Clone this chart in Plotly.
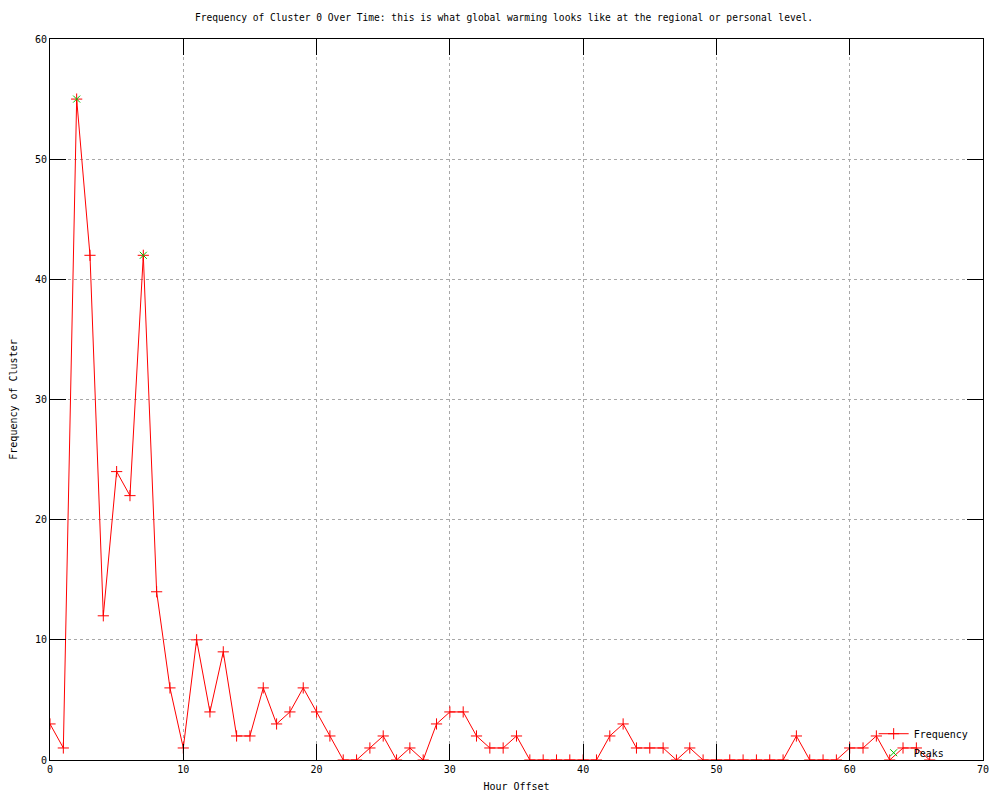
import plotly.graph_objects as go

# hour offset vs frequency of cluster 0
hours = list(range(0, 67))
frequency = [3, 1, 55, 42, 12, 24, 22, 42, 14, 6,
             1, 10, 4, 9, 2, 2, 6, 3, 4, 6,
             4, 2, 0, 0, 1, 2, 0, 1, 0, 3,
             4, 4, 2, 1, 1, 2, 0, 0, 0, 0,
             0, 0, 2, 3, 1, 1, 1, 0, 1, 0,
             0, 0, 0, 0, 0, 0, 2, 0, 0, 0,
             1, 1, 2, 0, 1, 1, 0]
peak_hours = [2, 7]
peak_values = [55, 42]

FONT = "DejaVu Sans Mono"

fig = go.Figure()
fig.add_trace(go.Scatter(
    x=hours, y=frequency, name="Frequency",
    mode="lines+markers",
    line=dict(color="#ff0000", width=1),
    marker=dict(symbol="cross-thin-open", size=8, color="#ff0000",
                line=dict(color="#ff0000", width=1)),
))
fig.add_trace(go.Scatter(
    x=peak_hours, y=peak_values, name="Peaks",
    mode="markers",
    marker=dict(symbol="x-thin-open", size=7, color="#00c000",
                line=dict(color="#00c000", width=1)),
))

axis_common = dict(
    showline=True, linecolor="black", linewidth=1, mirror="ticks",
    ticks="inside", ticklen=16, tickcolor="black", tickwidth=1,
    showgrid=True, gridcolor="#a8a8a8", griddash="dot", gridwidth=1,
    zeroline=False, dtick=10, automargin=False,
    tickfont=dict(family=FONT, size=10, color="black"),
)

fig.update_xaxes(range=[0, 70], title=dict(text="Hour Offset", standoff=8,
                 font=dict(family=FONT, size=10, color="black")), **axis_common)
fig.update_yaxes(range=[0, 60], title=dict(text="Frequency of Cluster", standoff=24,
                 font=dict(family=FONT, size=10, color="black")), **axis_common)

# page body adds an 8px margin, so the figure is 8px smaller each way
fig.update_layout(
    width=992, height=792,
    margin=dict(l=42, r=17, t=31, b=40),
    plot_bgcolor="white", paper_bgcolor="white",
    font=dict(family=FONT, size=10, color="black"),
    title=dict(
        text="Frequency of Cluster 0 Over Time: this is what global warming looks like at the regional or personal level.",
        x=0.5, xanchor="center", y=0.992, yanchor="top",
        font=dict(family=FONT, size=9.6, color="black"),
    ),
    legend=dict(x=0.99, xanchor="right", y=-0.01, yanchor="bottom",
                bgcolor="rgba(0,0,0,0)", font=dict(family=FONT, size=10),
                tracegroupgap=0, itemwidth=30),
)

fig.write_html("out.html")
